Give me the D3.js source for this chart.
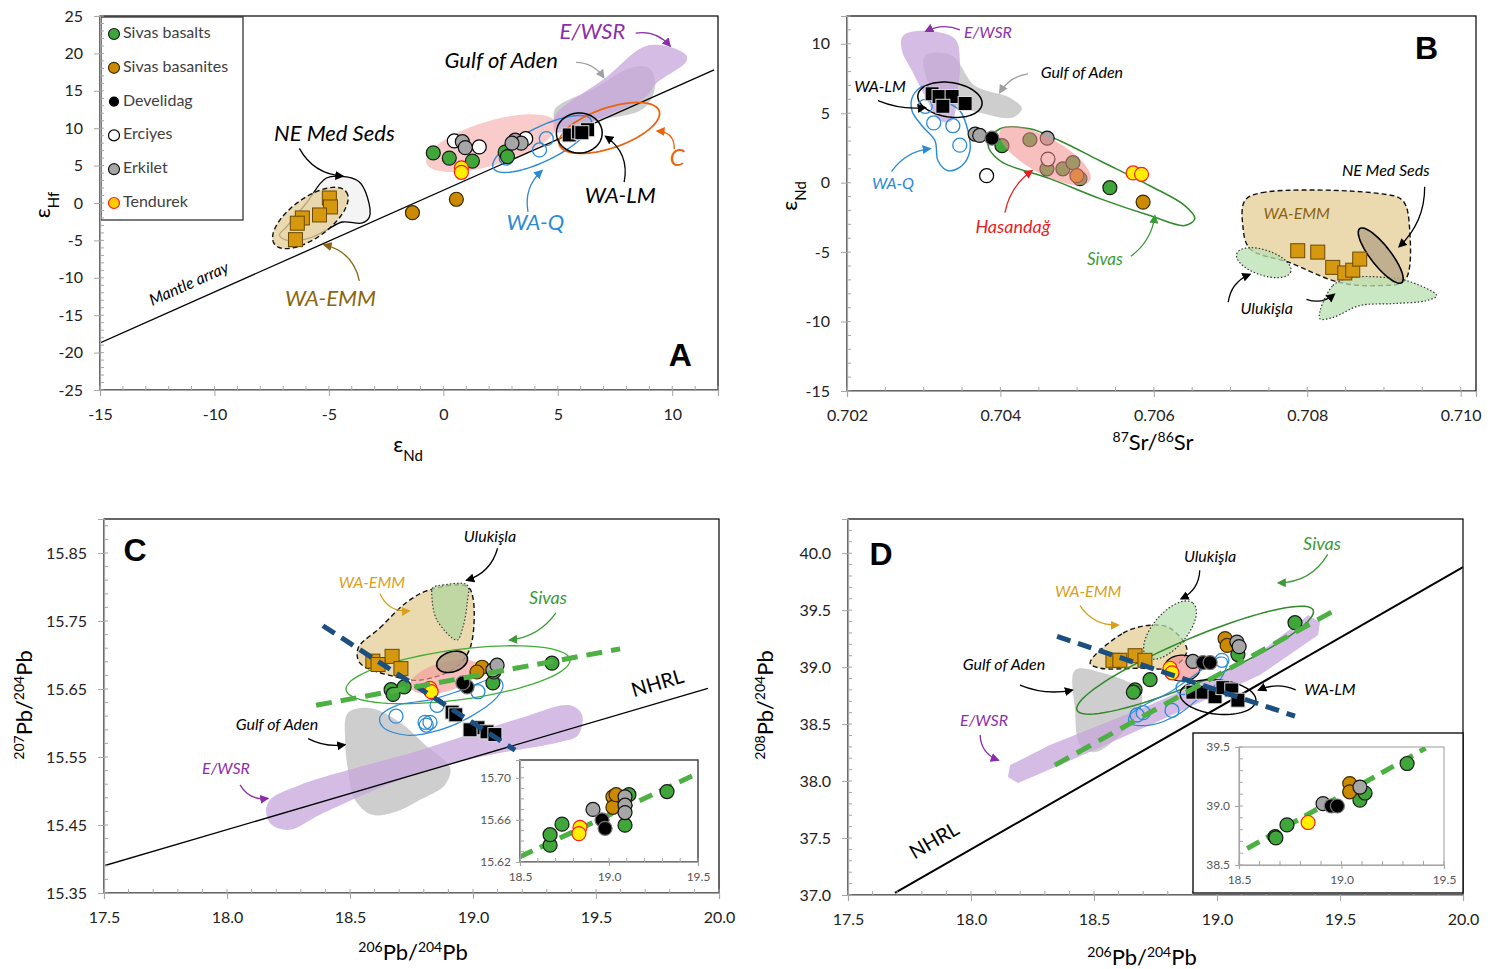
<!DOCTYPE html>
<html><head><meta charset="utf-8">
<script src="https://cdn.jsdelivr.net/npm/d3@7"></script>
<style>body{margin:0;background:#fff}</style>
</head><body>
<script>
// ================= DATA =================
// Panel A: eNd vs eHf
const A_basalts   = [[-0.44,6.7],[0.26,6.0],[1.27,5.6],[2.7,6.8],[2.8,6.2]];
const A_basanites = [[-1.35,-1.3],[0.57,0.5]];
const A_erciyes   = [[0.48,8.3],[1.57,7.5],[3.6,8.6]];
const A_erkilet   = [[0.83,8.2],[0.96,7.4],[3.14,8.4],[3.4,8.0],[3.0,8.0]];
const A_tendurek  = [[0.79,4.7],[0.79,4.1]];
const A_waq       = [[2.75,6.0],[4.2,7.1],[4.5,8.6]];
const A_walm      = [[5.5,9.1],[5.9,9.5],[6.3,9.8],[6.05,9.4]];
const A_waemm     = [[-4.98,0.67],[-4.93,-0.53],[-5.41,-1.6],[-6.16,-2.0],[-6.38,-2.7],[-6.46,-4.9]];
const A_mantleArray = [[-15,-18.7],[11.83,17.8]];

// Panel B: 87Sr/86Sr vs eNd
const B_basalts   = [[0.70402,2.66],[0.705427,-0.36],[0.704384,3.09],[0.704606,1.0],[0.704814,1.0],[0.704945,1.44],[0.705036,0.29]];
const B_basanites = [[0.704997,0.5],[0.70586,-1.4]];
const B_develidag = [[0.70389,3.2]];
const B_erciyes   = [[0.70382,0.5],[0.70462,1.7]];
const B_erkilet   = [[0.70367,3.5],[0.70373,3.4],[0.70461,3.2]];
const B_tendurek  = [[0.70573,0.7],[0.70584,0.6]];
const B_waq       = [[0.70313,4.3],[0.70338,4.1],[0.70347,2.7],[0.70302,5.5]];
const B_walm      = [[0.70311,6.4],[0.70320,6.2],[0.70337,6.2],[0.70354,5.7],[0.70325,5.5]];
const B_waemm     = [[0.707876,-4.9],[0.708137,-5.0],[0.708332,-6.1],[0.708489,-6.5],[0.708593,-6.3],[0.708684,-5.5]];

// Panel C: 206Pb/204Pb vs 207Pb/204Pb
const C_basalts   = [[18.667,15.649],[18.675,15.642],[18.72,15.653],[19.321,15.688],[19.081,15.659],[19.085,15.675]];
const C_basanites = [[19.037,15.682],[19.016,15.675]];
const C_develidag = [[18.976,15.653],[18.959,15.659]];
const C_erkilet   = [[19.081,15.678],[19.098,15.685]];
const C_tendurek  = [[18.825,15.651],[18.83,15.646]];
const C_waq       = [[18.687,15.610],[18.805,15.601],[18.825,15.601],[18.854,15.626],[19.020,15.646],[18.81,15.597]];
const C_walm      = [[18.915,15.616],[19.020,15.593],[19.057,15.587],[19.089,15.583],[18.988,15.590],[18.93,15.612]];
const C_waemm     = [[18.593,15.691],[18.671,15.698],[18.707,15.680],[18.614,15.686]];
const C_nhrl      = [[17.5,15.390],[19.955,15.651]];
const C_blueTrend = [[18.39,15.743],[19.171,15.560]];
const C_greenTrend= [[18.362,15.626],[19.598,15.709]];
// Inset C
const CI_basalts   = [[18.669,15.636],[18.669,15.646],[18.736,15.656],[19.326,15.687],[19.090,15.655],[19.112,15.684]];
const CI_basanites = [[19.022,15.682],[19.022,15.672],[19.04,15.684]];
const CI_develidag = [[18.961,15.660],[18.978,15.652]];
const CI_erkilet   = [[18.910,15.670],[19.090,15.682],[19.090,15.674],[19.090,15.667]];
const CI_tendurek  = [[18.837,15.653],[18.831,15.647]];
const CI_greenTrend= [[18.5,15.625],[19.47,15.702]];

// Panel D: 206Pb/204Pb vs 208Pb/204Pb
const D_basalts   = [[18.728,38.89],[18.667,38.80],[19.317,39.39],[19.085,39.11],[18.66,38.78]];
const D_basanites = [[19.033,39.25],[19.041,39.19]];
const D_develidag = [[18.943,39.04],[18.972,39.04]];
const D_erkilet   = [[19.081,39.22],[19.09,39.18],[18.902,39.05]];
const D_tendurek  = [[18.809,38.99],[18.817,38.95]];
const D_waq       = [[18.675,38.58],[18.817,38.62],[18.862,38.82],[19.02,39.06],[18.70,38.60]];
const D_walm      = [[18.902,38.78],[18.943,38.78],[18.992,38.74],[19.024,38.82],[19.06,38.80],[19.085,38.71]];
const D_waemm     = [[18.577,39.06],[18.605,39.06],[18.667,39.10],[18.707,39.06]];
const D_nhrl      = [[17.691,37.018],[20.0,39.877]];
const D_blueTrend = [[18.35,39.27],[19.317,38.57]];
const D_greenTrend= [[18.341,38.14],[19.48,39.50]];
// Inset D
const DI_basalts   = [[18.676,38.74],[18.68,38.73],[18.734,38.84],[19.32,39.36],[19.09,39.05],[19.115,39.11]];
const DI_tendurek  = [[18.837,38.86]];
const DI_erkilet   = [[18.91,39.02],[19.09,39.16]];
const DI_develidag = [[18.95,39.00],[18.98,39.00]];
const DI_basanites = [[19.04,39.19],[19.04,39.12]];
const DI_greenTrend= [[18.54,38.64],[19.41,39.49]];

// Tick labels
const A_xticks = [-15,-10,-5,0,5,10];
const A_yticks = [-25,-20,-15,-10,-5,0,5,10,15,20,25];
const B_xticks = [0.702,0.704,0.706,0.708,0.710];
const B_yticks = [-15,-10,-5,0,5,10];
const Pb_xticks = [17.5,18.0,18.5,19.0,19.5,20.0];
const C_yticks = [15.35,15.45,15.55,15.65,15.75,15.85];
const D_yticks = [37.0,37.5,38.0,38.5,39.0,39.5,40.0];
const In_xticks = [18.5,19.0,19.5];
const CI_yticks = [15.62,15.66,15.70];
const DI_yticks = [38.5,39.0,39.5];

const legendNames = ["Sivas basalts","Sivas basanites","Develidag","Erciyes","Erkilet","Tendurek"];

// ================= SETUP =================
const W=1498,H=969;
const FONT="Lato, 'Open Sans', sans-serif";
const loc=d3.formatLocale({decimal:'.',thousands:',',grouping:[3],currency:['',''],minus:'-'});
const fmt=s=>loc.format(s);
const svg=d3.select('body').append('svg').attr('width',W).attr('height',H)
  .style('font-family',FONT);
const defs=svg.append('defs');
const markerIds={};
function marker(color){
  if(markerIds[color]) return markerIds[color];
  const id='m'+Object.keys(markerIds).length;
  defs.append('marker').attr('id',id).attr('viewBox','0 0 10 10').attr('refX',8).attr('refY',5)
    .attr('markerWidth',7).attr('markerHeight',7).attr('orient','auto')
    .append('path').attr('d','M0,0L10,5L0,10z').attr('fill',color);
  markerIds[color]=id; return id;
}

const ST={
  basalts:{fill:'#3fa63a',stroke:'#1a1a1a'},
  basanites:{fill:'#cc8a00',stroke:'#3a2a00'},
  develidag:{fill:'#000',stroke:'#777'},
  erciyes:{fill:'#fff',stroke:'#000'},
  erkilet:{fill:'#a6a6a6',stroke:'#111'},
  tendurek:{fill:'#ffef00',stroke:'#ff1a1a'},
  waq:{fill:'none',stroke:'#2b8ad6'},
  walm:{fill:'#000',stroke:'#ddd'},
  waemm:{fill:'#d6980f',stroke:'#6b4a00'}
};

function panel(cfg){
  const x=d3.scaleLinear().domain(cfg.xd).range([cfg.x0,cfg.x1]);
  const y=d3.scaleLinear().domain(cfg.yd).range([cfg.y1,cfg.y0]);
  const g=svg.append('g');
  const cid='clip'+cfg.id;
  defs.append('clipPath').attr('id',cid).append('rect')
    .attr('x',cfg.x0).attr('y',cfg.y0).attr('width',cfg.x1-cfg.x0).attr('height',cfg.y1-cfg.y0);
  g.append('rect').attr('x',cfg.x0).attr('y',cfg.y0).attr('width',cfg.x1-cfg.x0).attr('height',cfg.y1-cfg.y0)
    .attr('fill','#fff').attr('stroke',cfg.frame||'#000').attr('stroke-width',cfg.fw||1.2);
  const plot=g.append('g').attr('clip-path',`url(#${cid})`);
  const over=g.append('g');
  return {x,y,g,plot,over,cfg};
}

function axes(p,o){
  const c=p.cfg, fs=o.fs||16;
  const xa=d3.axisBottom(p.x).tickValues(o.xt).tickFormat(o.xf).tickSize(o.ts||6).tickPadding(o.tp||13);
  const ya=d3.axisLeft(p.y).tickValues(o.yt).tickFormat(o.yf).tickSize(o.ts||6).tickPadding(o.tpy||11);
  const gx=p.g.append('g').attr('transform',`translate(0,${c.y1})`).call(xa);
  const gy=p.g.append('g').attr('transform',`translate(${c.x0},0)`).call(ya);
  [gx,gy].forEach(a=>{
    a.select('.domain').attr('stroke',o.axc||'#a6a6a6').attr('stroke-width',1.2);
    a.selectAll('.tick line').attr('stroke',o.axc||'#a6a6a6');
    a.selectAll('text').attr('font-size',fs).attr('fill',o.tc||'#222').attr('font-family',FONT);
  });
  if(o.xm){ p.g.append('g').selectAll('line').data(o.xm).join('line')
     .attr('x1',d=>p.x(d)).attr('x2',d=>p.x(d)).attr('y1',c.y1).attr('y2',c.y1-4).attr('stroke',o.axc||'#a6a6a6'); }
  if(o.ym){ p.g.append('g').selectAll('line').data(o.ym).join('line')
     .attr('y1',d=>p.y(d)).attr('y2',d=>p.y(d)).attr('x1',c.x0).attr('x2',c.x0+4).attr('stroke',o.axc||'#a6a6a6'); }
}

const lineXY=p=>d3.line().x(d=>p.x(d[0])).y(d=>p.y(d[1]));
function ell(c,a,b,n=80){
  return d3.range(n).map(i=>{const t=i/n*2*Math.PI;
    return [c[0]+a[0]*Math.cos(t)+b[0]*Math.sin(t), c[1]+a[1]*Math.cos(t)+b[1]*Math.sin(t)];});
}
function field(p,pts,st,smooth=true,layer){
  const gen=lineXY(p).curve(smooth?d3.curveCatmullRomClosed.alpha(0.5):d3.curveLinearClosed);
  const path=(layer||p.plot).append('path').attr('d',gen(pts))
    .attr('fill',st.fill||'none').attr('fill-opacity',st.fo==null?1:st.fo)
    .attr('stroke',st.stroke||'none').attr('stroke-width',st.sw||1.3);
  if(st.dash) path.attr('stroke-dasharray',st.dash);
  return path;
}
function seg(p,pts,st){
  const l=p.plot.append('path').attr('d',lineXY(p)(pts)).attr('fill','none')
    .attr('stroke',st.stroke).attr('stroke-width',st.sw||1.3);
  if(st.dash) l.attr('stroke-dasharray',st.dash);
}
function circles(p,data,st,r=7){
  p.plot.append('g').selectAll('circle').data(data).join('circle')
    .attr('cx',d=>p.x(d[0])).attr('cy',d=>p.y(d[1])).attr('r',r)
    .attr('fill',st.fill).attr('stroke',st.stroke).attr('stroke-width',st.fill==='none'?1.3:1.2);
}
function squares(p,data,st,s=14){
  p.plot.append('g').selectAll('rect').data(data).join('rect')
    .attr('x',d=>p.x(d[0])-s/2).attr('y',d=>p.y(d[1])-s/2).attr('width',s).attr('height',s)
    .attr('fill',st.fill).attr('stroke',st.stroke).attr('stroke-width',1);
}
function label(p,pos,txt,o={}){
  const t=p.over.append('text').attr('x',p.x(pos[0])).attr('y',p.y(pos[1]))
    .attr('text-anchor',o.anchor||'middle').attr('dominant-baseline','middle')
    .attr('font-size',o.fs||16).attr('fill',o.color||'#000')
    .attr('font-style',o.italic===false?'normal':'italic').attr('font-weight',o.bold?'bold':'normal')
    .text(txt);
  if(o.fam) t.attr('font-family',o.fam);
  if(o.rot!=null) t.attr('transform',`rotate(${o.rot},${p.x(pos[0])},${p.y(pos[1])})`);
}
function arrow(p,from,to,bend,color){
  const x1=p.x(from[0]),y1=p.y(from[1]),x2=p.x(to[0]),y2=p.y(to[1]);
  const mx=(x1+x2)/2,my=(y1+y2)/2,dx=x2-x1,dy=y2-y1,L=Math.hypot(dx,dy)||1;
  const cx=mx-dy/L*bend, cy=my+dx/L*bend;
  const pa=d3.path(); pa.moveTo(x1,y1); pa.quadraticCurveTo(cx,cy,x2,y2);
  p.over.append('path').attr('d',pa.toString()).attr('fill','none').attr('stroke',color)
    .attr('stroke-width',1.3).attr('marker-end',`url(#${marker(color)})`);
}
function allPoints(p,set,r){
  if(set.basalts) circles(p,set.basalts,ST.basalts,r);
  if(set.basanites) circles(p,set.basanites,ST.basanites,r);
  if(set.erciyes) circles(p,set.erciyes,ST.erciyes,r);
  if(set.erkilet) circles(p,set.erkilet,ST.erkilet,r);
  if(set.develidag) circles(p,set.develidag,ST.develidag,r);
  if(set.tendurek) circles(p,set.tendurek,ST.tendurek,r);
}

const PURPLE={fill:'#c6a5dc',fo:0.75};
const GRAY={fill:'#bdbdbd',fo:0.75};
const PINK={fill:'#f59a9a',fo:0.65};
const BEIGE={fill:'#e6cf9c',fo:0.8,stroke:'#111',dash:'5,3',sw:1.4};
const ULUK={fill:'#b9e0b2',fo:0.75,stroke:'#333',dash:'1.5,2',sw:1.2};
const PCOL='#8a2fa8', BCOL='#2b8ad6', GCOL='#3a9a35';

function yTitle(x,y,parts){
  const t=svg.append('text').attr('transform',`translate(${x},${y}) rotate(-90)`).attr('text-anchor','middle')
    .attr('font-size',22).attr('fill','#000');
  parts.forEach(([s,k])=>{const ts=t.append('tspan').text(s);
    if(k==='sup'){ts.attr('font-size',14).attr('baseline-shift','super');}
    if(k==='sub'){ts.attr('font-size',15).attr('baseline-shift','sub');}});
}
function xTitle(x,y,parts){
  const t=svg.append('text').attr('x',x).attr('y',y).attr('text-anchor','middle')
    .attr('font-size',22).attr('fill','#000');
  parts.forEach(([s,k])=>{const ts=t.append('tspan').text(s);
    if(k==='sup'){ts.attr('font-size',14).attr('baseline-shift','super');}
    if(k==='sub'){ts.attr('font-size',15).attr('baseline-shift','sub');}});
}
const range=(a,b,s)=>d3.range(Math.round((b-a)/s)+1).map(i=>+(a+i*s).toFixed(4));

// ================= PANEL A =================
{
const p=panel({id:'A',x0:100,x1:718,y0:16,y1:390,xd:[-15,12],yd:[-25,25]});
axes(p,{xt:A_xticks,yt:A_yticks,xf:fmt('d'),yf:fmt('d'),xm:range(-15,12,1),ym:range(-25,25,1)});
field(p,[[4.85,12.4],[6.59,15.3],[8.25,18.1],[9.0,18.0],[9.26,15.8],[8.78,12.7],[6.81,11.1],[5.06,10.0]],GRAY);
field(p,[[4.85,11.5],[7.12,16.8],[8.69,20.8],[9.56,21.1],[10.61,19.8],[10.61,18.9],[9.3,16.0],[8.86,14.2],[7.38,12.0],[5.94,10.2],[4.93,9.5]],PURPLE);
field(p,ell([2.10,8.0],[2.84,2.66],[0.28,-2.81]),{fill:'#f7a8a8',fo:0.6},false);
field(p,[[-5.11,3.34],[-4.24,3.48],[-3.67,2.81],[-3.32,0.8],[-3.23,-1.87],[-3.54,-2.67],[-4.41,-2.54],[-5.11,-3.61],[-5.85,-4.68],[-6.86,-4.95],[-7.16,-4.28],[-6.86,-3.21],[-5.98,0]],{fill:'#f4f4f4',stroke:'#000',sw:1.3});
field(p,ell([-5.81,-2.0],[1.57,3.48],[0.51,-2.17]),BEIGE,false);
seg(p,A_mantleArray,{stroke:'#000',sw:1.3});
field(p,ell([4.32,7.89],[2.14,3.21],[0.32,-2.05]),{stroke:BCOL,sw:1.4},false);
field(p,ell([7.25,10.03],[2.18,2.27],[0.28,-2.54]),{stroke:'#e8650f',sw:1.8},false);
field(p,ell([5.94,9.36],[1.0,0],[0,2.67]),{stroke:'#000',sw:1.5},false);
circles(p,A_waq,ST.waq);
allPoints(p,{basalts:A_basalts,basanites:A_basanites,erciyes:A_erciyes,erkilet:A_erkilet,tendurek:A_tendurek});
squares(p,A_walm,ST.walm);
squares(p,A_waemm,ST.waemm);
label(p,[6.51,22.7],'E/WSR',{fs:22,color:PCOL});
arrow(p,[8.4,22.7],[9.9,21.0],-10,PCOL);
label(p,[2.53,18.85],'Gulf of Aden',{fs:22});
arrow(p,[5.8,18.8],[7.0,16.8],-8,'#a0a0a0');
label(p,[-4.76,9.09],'NE Med Seds',{fs:22});
arrow(p,[-6.29,7.3],[-4.4,3.6],14,'#000');
label(p,[10.22,5.75],'C',{fs:24,color:'#e8650f'});
arrow(p,[10.09,7.2],[9.35,9.6],12,'#e8650f');
label(p,[7.73,0.8],'WA-LM',{fs:22});
arrow(p,[7.9,2.8],[7.1,8.9],16,'#000');
label(p,[4.02,-2.81],'WA-Q',{fs:22,color:BCOL});
arrow(p,[3.7,-1.2],[4.3,4.3],-12,BCOL);
label(p,[-4.93,-13.0],'WA-EMM',{fs:22,color:'#8a6510'});
arrow(p,[-3.67,-10.4],[-5.2,-5.6],16,'#8a6510');
label(p,[-11.09,-10.96],'Mantle array',{fs:16,rot:-24});
label(p,[10.35,-20.6],'A',{fs:32,italic:false,bold:true,fam:'Liberation Sans, Arial, sans-serif'});
// legend
const lg=p.over.append('g');
lg.append('rect').attr('x',101).attr('y',17).attr('width',142).attr('height',203).attr('fill','#fff').attr('stroke','#333').attr('stroke-width',1.3);
const keys=['basalts','basanites','develidag','erciyes','erkilet','tendurek'];
legendNames.forEach((n,i)=>{
  const yy=34+i*33.8;
  lg.append('circle').attr('cx',114).attr('cy',yy).attr('r',keys[i]==='develidag'?4.5:5.5)
    .attr('fill',keys[i]==='tendurek'?'#ffcc00':ST[keys[i]].fill).attr('stroke',keys[i]==='develidag'?'#000':ST[keys[i]].stroke).attr('stroke-width',1.2);
  lg.append('text').attr('x',123).attr('y',yy).attr('dominant-baseline','middle').attr('font-size',16).attr('fill','#404040').text(n);
});
}
yTitle(50,205,[['ε'],['Hf','sub']]);
xTitle(408,452,[['ε'],['Nd','sub']]);

// ================= PANEL B =================
{
const p=panel({id:'B',x0:847,x1:1476,y0:16,y1:391,xd:[0.702,0.7102],yd:[-15,12]});
axes(p,{xt:B_xticks,yt:B_yticks,xf:fmt('.3f'),yf:fmt('d'),xm:range(0.702,0.710,0.0005),ym:range(-15,12,1)});
field(p,[[0.703016,9.14],[0.703368,9.14],[0.703668,6.98],[0.704124,6.12],[0.704280,5.32],[0.704150,4.68],[0.703733,5.04],[0.703407,5.54],[0.703081,6.98]],GRAY);
field(p,[[0.702730,10.58],[0.703016,10.94],[0.703407,10.36],[0.703472,8.78],[0.703433,6.26],[0.703368,4.46],[0.703212,4.46],[0.703016,6.26],[0.702847,8.06],[0.702717,9.5]],PURPLE);
field(p,[[0.707186,-1.29],[0.707407,-0.72],[0.708945,-0.79],[0.709245,-1.29],[0.709336,-3.45],[0.709271,-7.05],[0.708945,-7.41],[0.708424,-7.19],[0.707772,-5.76],[0.707251,-4.75],[0.707160,-3.09]],BEIGE);
field(p,ell([0.707433,-5.76],[0.000352,-0.65],[-0.000052,-0.86]),ULUK,false);
field(p,[[0.708163,-9.78],[0.708333,-7.41],[0.708593,-6.83],[0.709036,-6.83],[0.709297,-7.05],[0.709688,-8.13],[0.709557,-8.49],[0.709114,-8.71],[0.708684,-8.85],[0.708333,-9.71]],ULUK);
field(p,ell([0.708958,-5.25],[0.000274,-1.94],[-0.000103,-0.44]),{fill:'#b8a88a',fo:0.85,stroke:'#000',sw:1.6},false);
field(p,[[0.703837,2.81],[0.703994,3.88],[0.704384,3.88],[0.704775,3.02],[0.705297,1.58],[0.705948,-0.22],[0.706404,-1.65],[0.706534,-2.59],[0.706404,-3.09],[0.705948,-2.37],[0.705297,-1.15],[0.704645,0.29],[0.703994,1.58]],{stroke:'#2f8a2a',sw:1.5});
field(p,[[0.702860,6.26],[0.703016,6.98],[0.703277,5.9],[0.703472,5.18],[0.703577,3.74],[0.703603,2.3],[0.703498,1.22],[0.703316,0.86],[0.703186,1.58],[0.703147,3.02],[0.702977,4.1],[0.702847,5.18]],{stroke:BCOL,sw:1.4});
field(p,ell([0.703342,5.97],[0.000417,-0.36],[-0.000039,-1.22]),{stroke:'#000',sw:1.5},false);
circles(p,B_waq,ST.waq);
allPoints(p,{basalts:B_basalts,basanites:B_basanites,erciyes:B_erciyes,erkilet:B_erkilet,develidag:B_develidag,tendurek:B_tendurek});
squares(p,B_walm,ST.walm);
squares(p,B_waemm,ST.waemm);
field(p,ell([0.704580,1.94],[0.000586,-1.80],[-0.000113,-1.13]),{fill:'#f38a8a',fo:0.55},false);
label(p,[0.703837,10.72],'E/WSR',{fs:16,color:PCOL});
arrow(p,[0.703472,11.0],[0.703030,10.9],8,PCOL);
label(p,[0.705062,7.84],'Gulf of Aden',{fs:16});
arrow(p,[0.704360,7.84],[0.703994,6.5],8,'#a0a0a0');
label(p,[0.702430,6.83],'WA-LM',{fs:16});
arrow(p,[0.702404,5.9],[0.703016,5.4],6,'#000');
label(p,[0.702599,-0.14],'WA-Q',{fs:16,color:BCOL});
arrow(p,[0.702580,0.8],[0.703081,2.45],-10,BCOL);
label(p,[0.704163,-3.31],'Hasandağ',{fs:18,color:'#e81e1e'});
arrow(p,[0.704059,-2.16],[0.704410,0.86],-10,'#e81e1e');
label(p,[0.705362,-5.61],'Sivas',{fs:17,color:GCOL});
arrow(p,[0.705700,-5.3],[0.706013,-2.4],10,GCOL);
label(p,[0.707863,-2.3],'WA-EMM',{fs:16,color:'#8a6510'});
label(p,[0.709024,0.79],'NE Med Seds',{fs:16});
arrow(p,[0.709531,-0.3],[0.709200,-4.6],-14,'#000');
label(p,[0.707472,-9.14],'Ulukişla',{fs:16});
arrow(p,[0.706970,-8.6],[0.707250,-6.6],-10,'#000');
arrow(p,[0.707990,-8.4],[0.708350,-8.05],8,'#000');
label(p,[0.709557,9.5],'B',{fs:32,italic:false,bold:true,fam:'Liberation Sans, Arial, sans-serif'});
}
yTitle(797,196,[['ε'],['Nd','sub']]);
xTitle(1153,450,[['87','sup'],['Sr/'],['86','sup'],['Sr']]);

// ================= PANEL C =================
{
const p=panel({id:'C',x0:104,x1:719,y0:519,y1:893,xd:[17.5,20.0],yd:[15.35,15.90]});
axes(p,{xt:Pb_xticks,yt:C_yticks,xf:fmt('.1f'),yf:fmt('.2f'),xm:range(17.5,20,0.1),ym:range(15.35,15.89,0.02)});
field(p,[[18.492,15.615],[18.581,15.622],[18.703,15.601],[18.805,15.568],[18.907,15.534],[18.886,15.509],[18.785,15.487],[18.683,15.469],[18.589,15.465],[18.520,15.487],[18.492,15.531],[18.480,15.575]],GRAY);
field(p,[[18.175,15.487],[18.297,15.509],[18.785,15.560],[19.191,15.607],[19.394,15.626],[19.443,15.612],[19.427,15.582],[19.354,15.572],[19.028,15.550],[18.703,15.516],[18.378,15.465],[18.256,15.443],[18.183,15.450],[18.159,15.469]],PURPLE);
field(p,[[18.533,15.710],[18.622,15.740],[18.732,15.778],[18.825,15.796],[18.976,15.801],[19.0,15.784],[18.988,15.710],[18.927,15.681],[18.785,15.663],[18.683,15.668],[18.541,15.688]],BEIGE);
field(p,[[18.837,15.799],[18.878,15.803],[18.976,15.803],[18.976,15.776],[18.959,15.741],[18.935,15.722],[18.854,15.751],[18.833,15.785]],{fill:'#b5d6a0',fo:0.8,stroke:'#333',dash:'1.5,2',sw:1.1});
field(p,ell([18.886,15.668],[0.142,0.0147],[0.0163,-0.0206]),PINK,false);
field(p,ell([18.915,15.690],[0.061,0.0074],[0.0138,-0.0138]),{fill:'#b09a84',fo:0.8,stroke:'#000',sw:1.6},false);
seg(p,C_nhrl,{stroke:'#000',sw:1.3});
field(p,ell([18.939,15.671],[0.455,0.0221],[0.0134,-0.0365]),{stroke:'#3fae35',sw:1.3},false);
field(p,[[18.622,15.609],[18.691,15.626],[18.825,15.634],[18.959,15.649],[19.098,15.666],[19.122,15.656],[19.098,15.638],[18.988,15.609],[18.866,15.590],[18.732,15.582],[18.634,15.594]],{stroke:BCOL,sw:1.2});
circles(p,C_waq,ST.waq);
squares(p,C_waemm,ST.waemm);
squares(p,C_walm,ST.walm);
allPoints(p,{basalts:C_basalts,basanites:C_basanites,erkilet:C_erkilet,develidag:C_develidag,tendurek:C_tendurek});
seg(p,C_blueTrend,{stroke:'#1b4f80',sw:5,dash:'14,8'});
seg(p,C_greenTrend,{stroke:'#4cb043',sw:5,dash:'16,9'});
label(p,[19.069,15.872],'Ulukişla',{fs:16});
arrow(p,[19.10,15.857],[18.975,15.81],-12,'#000');
label(p,[18.589,15.804],'WA-EMM',{fs:16,color:'#d9a01c'});
arrow(p,[18.622,15.79],[18.74,15.765],12,'#d9a01c');
label(p,[19.305,15.781],'Sivas',{fs:18,color:GCOL});
arrow(p,[19.337,15.762],[19.15,15.722],-12,GCOL);
label(p,[19.752,15.656],'NHRL',{fs:20,italic:false,rot:-16.5});
label(p,[18.203,15.596],'Gulf of Aden',{fs:16});
arrow(p,[18.33,15.577],[18.478,15.568],6,'#000');
label(p,[17.996,15.531],'E/WSR',{fs:16,color:PCOL});
arrow(p,[18.053,15.509],[18.165,15.489],10,PCOL);
label(p,[17.626,15.85],'C',{fs:32,italic:false,bold:true,fam:'Liberation Sans, Arial, sans-serif'});
// inset C
const q=panel({id:'CI',x0:520,x1:698,y0:760,y1:862,xd:[18.5,19.5],yd:[15.62,15.717],frame:'#444',fw:1.5});
axes(q,{xt:In_xticks,yt:CI_yticks,xf:fmt('.1f'),yf:fmt('.2f'),fs:12,tc:'#555',ts:4,tp:6,tpy:5,xm:range(18.5,19.5,0.1),ym:range(15.62,15.71,0.01)});
seg(q,CI_greenTrend,{stroke:'#4cb043',sw:5,dash:'14,8'});
allPoints(q,{basalts:CI_basalts,basanites:CI_basanites,erkilet:CI_erkilet,develidag:CI_develidag,tendurek:CI_tendurek},7);
}
yTitle(32,705,[['207','sup'],['Pb/'],['204','sup'],['Pb']]);
xTitle(413,960,[['206','sup'],['Pb/'],['204','sup'],['Pb']]);

// ================= PANEL D =================
{
const p=panel({id:'D',x0:848,x1:1463,y0:519,y1:895,xd:[17.5,20.0],yd:[37,40.3]});
axes(p,{xt:Pb_xticks,yt:D_yticks,xf:fmt('.1f'),yf:fmt('.1f'),xm:range(17.5,20,0.1),ym:range(37,40.2,0.1)});
field(p,[[18.423,38.974],[18.524,38.956],[18.687,38.798],[18.687,38.623],[18.606,38.404],[18.504,38.254],[18.443,38.316],[18.423,38.623]],GRAY);
field(p,[[18.159,38.140],[18.321,38.316],[18.728,38.667],[19.134,39.061],[19.370,39.456],[19.419,39.395],[19.411,39.281],[19.175,38.930],[18.728,38.491],[18.362,38.140],[18.191,37.982],[18.150,38.035]],PURPLE,false);
field(p,[[18.484,39.035],[18.618,39.298],[18.728,39.368],[18.809,39.342],[18.878,39.149],[18.821,39.0],[18.687,38.991],[18.524,38.991]],BEIGE);
field(p,ell([18.809,39.325],[0.0935,0.237],[0.0528,-0.0965]),ULUK,false);
field(p,ell([18.858,38.991],[0.073,0],[0,0.114]),{fill:'#f38a8a',fo:0.65,stroke:'#000',sw:1.2},false);
seg(p,D_nhrl,{stroke:'#000',sw:2});
field(p,ell([18.911,39.061],[0.480,0.439],[0.035,-0.178]),{stroke:'#2f8a2a',sw:1.5},false);
field(p,[[18.646,38.579],[18.821,38.798],[18.919,38.947],[19.012,39.088],[19.041,39.061],[19.012,38.886],[18.931,38.737],[18.850,38.596],[18.728,38.491],[18.646,38.509]],{stroke:BCOL,sw:1.2});
field(p,ell([19.004,38.737],[0.154,-0.035],[-0.008,-0.149]),{stroke:'#000',sw:1.4},false);
circles(p,D_waq,ST.waq);
squares(p,D_waemm,ST.waemm);
squares(p,D_walm,ST.walm);
allPoints(p,{basalts:D_basalts,basanites:D_basanites,erkilet:D_erkilet,develidag:D_develidag,tendurek:D_tendurek});
seg(p,D_blueTrend,{stroke:'#1b4f80',sw:5,dash:'14,8'});
seg(p,D_greenTrend,{stroke:'#4cb043',sw:5,dash:'16,9'});
label(p,[18.972,39.956],'Ulukişla',{fs:16});
arrow(p,[18.93,39.85],[18.855,39.6],-10,'#000');
label(p,[19.427,40.07],'Sivas',{fs:18,color:GCOL});
arrow(p,[19.45,39.99],[19.25,39.74],-16,GCOL);
label(p,[18.476,39.649],'WA-EMM',{fs:16,color:'#d9a01c'});
arrow(p,[18.443,39.54],[18.598,39.37],12,'#d9a01c');
label(p,[18.134,39.009],'Gulf of Aden',{fs:16});
arrow(p,[18.199,38.842],[18.411,38.798],8,'#000');
label(p,[18.053,38.518],'E/WSR',{fs:16,color:PCOL});
arrow(p,[18.037,38.404],[18.110,38.184],10,PCOL);
label(p,[19.459,38.789],'WA-LM',{fs:16});
arrow(p,[19.32,38.80],[19.17,38.80],8,'#000');
label(p,[17.854,37.465],'NHRL',{fs:20,italic:false,rot:-30});
label(p,[17.634,39.974],'D',{fs:32,italic:false,bold:true,fam:'Liberation Sans, Arial, sans-serif'});
// inset D
svg.append('rect').attr('x',1193).attr('y',733).attr('width',270).attr('height',160).attr('fill','#fff').attr('stroke','#000').attr('stroke-width',1.3);
const q=panel({id:'DI',x0:1239,x1:1444,y0:747,y1:865,xd:[18.5,19.5],yd:[38.5,39.5],frame:'#999',fw:1});
axes(q,{xt:In_xticks,yt:DI_yticks,xf:fmt('.1f'),yf:fmt('.1f'),fs:12,tc:'#555',ts:4,tp:6,tpy:5,xm:range(18.5,19.5,0.1),ym:range(38.5,39.5,0.1)});
seg(q,DI_greenTrend,{stroke:'#4cb043',sw:5,dash:'14,8'});
allPoints(q,{basalts:DI_basalts,basanites:DI_basanites,erkilet:DI_erkilet,develidag:DI_develidag,tendurek:DI_tendurek},7);
}
yTitle(773,705,[['208','sup'],['Pb/'],['204','sup'],['Pb']]);
xTitle(1142,965,[['206','sup'],['Pb/'],['204','sup'],['Pb']]);
</script>
</body></html>
